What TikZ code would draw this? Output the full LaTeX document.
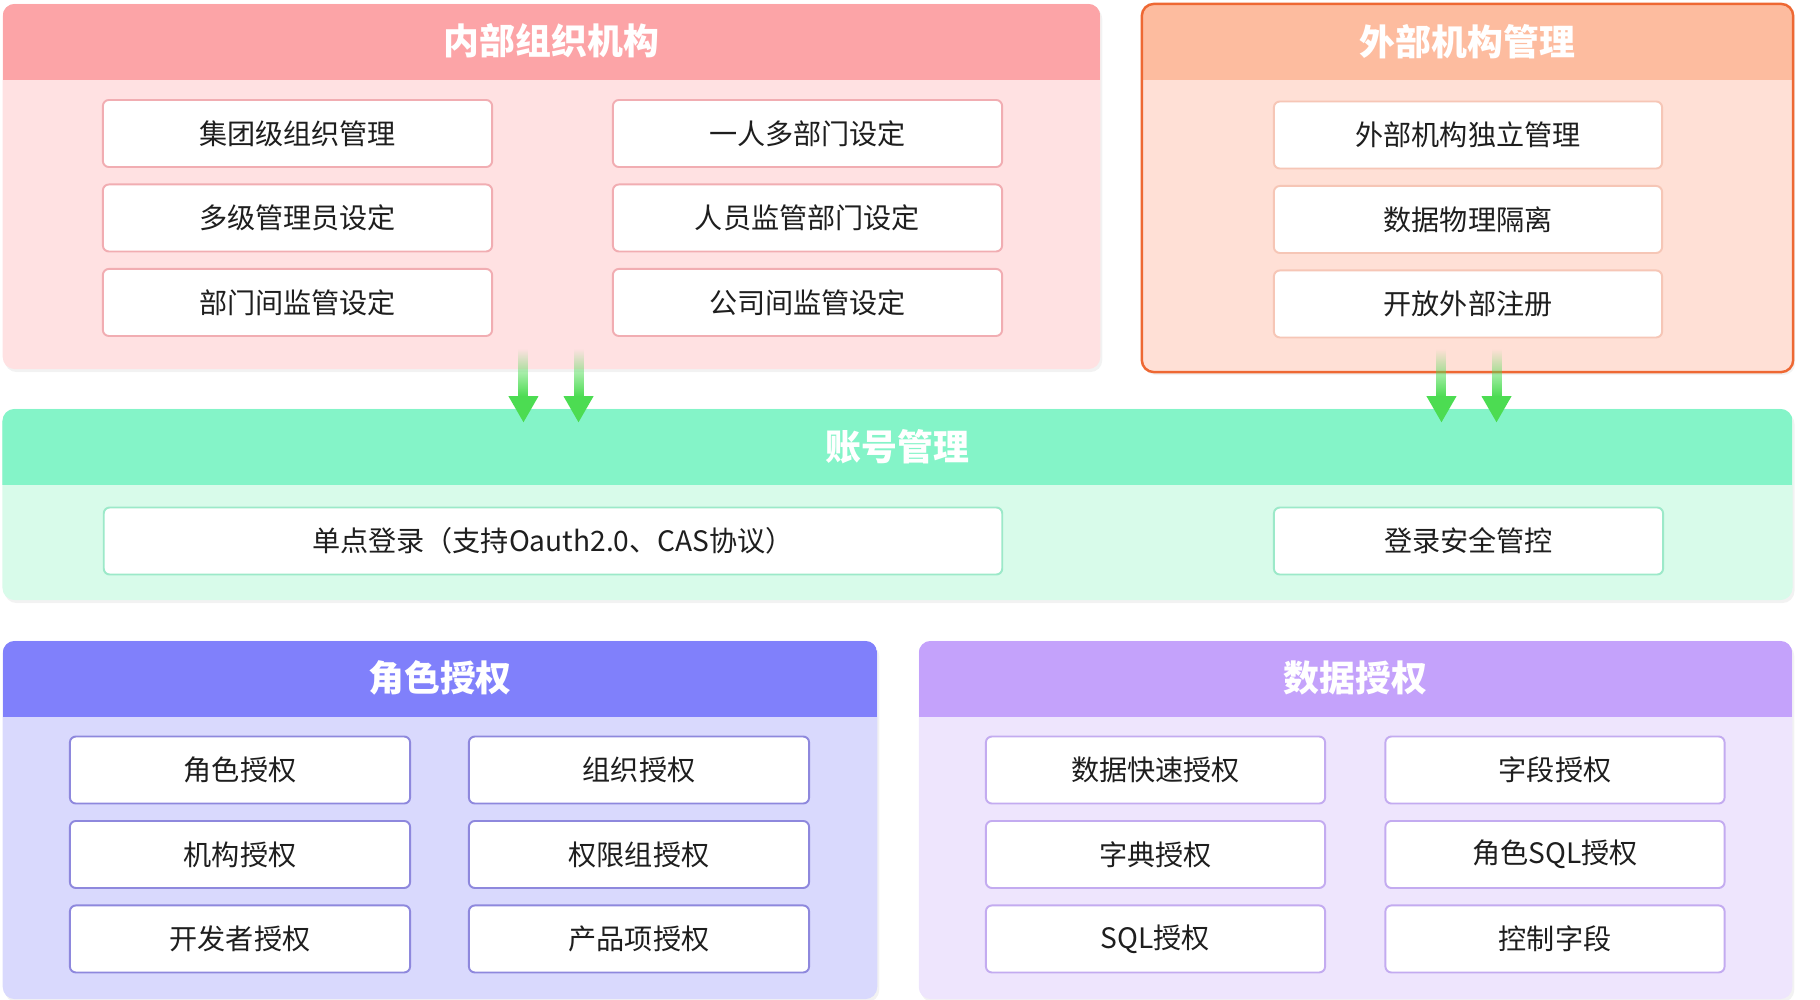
\documentclass[tikz,border=0pt]{standalone}
\usepackage{fontspec}
\setmainfont{Noto Sans CJK SC}
\usetikzlibrary{positioning, fadings, shadows}

\definecolor{innerHead}{HTML}{FCA4A7}
\definecolor{innerBody}{HTML}{FFE1E2}
\definecolor{innerLine}{HTML}{F1ADB2}
\definecolor{outerHead}{HTML}{FDBC9F}
\definecolor{outerBody}{HTML}{FFE0D6}
\definecolor{outerBorder}{HTML}{EE6833}
\definecolor{outerLine}{HTML}{F6C6B6}
\definecolor{acctHead}{HTML}{84F4C8}
\definecolor{acctBody}{HTML}{D8FBEA}
\definecolor{acctLine}{HTML}{9CE9C9}
\definecolor{roleHead}{HTML}{8080FB}
\definecolor{roleBody}{HTML}{D9D9FD}
\definecolor{roleLine}{HTML}{8E88DD}
\definecolor{dataHead}{HTML}{C4A2FB}
\definecolor{dataBody}{HTML}{EEE5FD}
\definecolor{dataLine}{HTML}{C3ABF0}
\definecolor{flowGreen}{HTML}{4CDC52}
\definecolor{ink}{HTML}{1E1E1E}

\tikzfading[name=fadeup, top color=transparent!100, middle color=transparent!75, bottom color=transparent!0]

\begin{document}
\begin{tikzpicture}[x=0.01cm, y=-0.01cm,
    panel/.style 2 args={rounded corners=0.12cm, fill=#1, inner sep=0,
      drop shadow={opacity=0.10, shadow xshift=0.02cm, shadow yshift=-0.03cm},
      path picture={\fill[#2, sharp corners] (path picture bounding box.north west)
        rectangle ([yshift=-0.76cm]path picture bounding box.north east);}},
    title/.style={font=\bfseries\fontsize{10.2}{12}\selectfont, text=white},
    box/.style={draw, fill=white, rounded corners=0.06cm, minimum height=0.67cm,
      line width=0.55pt, inner sep=0, text=ink, font=\fontsize{8}{10}\selectfont},
    innerbox/.style={box, draw=innerLine, minimum width=3.89cm},
    outerbox/.style={box, draw=outerLine, minimum width=3.88cm},
    acctbox/.style={box, draw=acctLine},
    rolebox/.style={box, draw=roleLine, minimum width=3.40cm},
    databox/.style={box, draw=dataLine, minimum width=3.39cm},
    shaft/.style={flowGreen, path fading=fadeup},
    head/.style={fill=flowGreen}
]
  \useasboundingbox (0,0) rectangle (1820,1000);

  % Internal organisation
  \node[panel={innerBody}{innerHead}, minimum width=10.97cm, minimum height=3.65cm] (inner) at (551.5,186.5) {};
  \node[title] (innerT) at ([yshift=-0.38cm]inner.north) {内部组织机构};
  \node[innerbox] (i1) at (297.5,133.5) {集团级组织管理};
  \node[innerbox, below=0.155cm of i1] (i3) {多级管理员设定};
  \node[innerbox, below=0.155cm of i3] (i5) {部门间监管设定};
  \node[innerbox] (i2) at (807.5,133.5) {一人多部门设定};
  \node[innerbox, below=0.155cm of i2] (i4) {人员监管部门设定};
  \node[innerbox, below=0.155cm of i4] (i6) {公司间监管设定};

  % External organisation
  \node[panel={outerBody}{outerHead}, draw=outerBorder, line width=0.7pt,
    minimum width=6.51cm, minimum height=3.68cm] (outer) at (1467.5,188) {};
  \node[title] (outerT) at ([yshift=-0.39cm]outer.north) {外部机构管理};
  \node[outerbox] (o1) at (1468,135) {外部机构独立管理};
  \node[outerbox, below=0.155cm of o1] (o2) {数据物理隔离};
  \node[outerbox, below=0.155cm of o2] (o3) {开放外部注册};

  % Accounts
  \node[panel={acctBody}{acctHead}, minimum width=17.89cm, minimum height=1.91cm] (acct) at (897.5,504.5) {};
  \node[title] (acctT) at ([yshift=-0.38cm]acct.north) {账号管理};
  \node[acctbox, minimum width=8.98cm] (a1) at (553,541) {单点登录（支持Oauth2.0、CAS协议）};
  \node[acctbox, minimum width=3.89cm] (a2) at (1468.5,541) {登录安全管控};

  % Flow arrows
  \coordinate (fs1) at ([xshift=-0.28cm,yshift=0.21cm]inner.south);
  \coordinate (fs2) at ([xshift=0.27cm,yshift=0.21cm]inner.south);
  \coordinate (fs3) at ([xshift=-0.26cm,yshift=0.24cm]outer.south);
  \coordinate (fs4) at ([xshift=0.29cm,yshift=0.24cm]outer.south);
  \coordinate (fh1) at ([yshift=0.12cm]acct.north -| fs1);
  \coordinate (fh2) at ([yshift=0.12cm]acct.north -| fs2);
  \coordinate (fh3) at ([yshift=0.12cm]acct.north -| fs3);
  \coordinate (fh4) at ([yshift=0.12cm]acct.north -| fs4);
  \fill[shaft] ([xshift=-0.05cm]fs1) rectangle ([xshift=0.05cm]fh1);
  \fill[shaft] ([xshift=-0.05cm]fs2) rectangle ([xshift=0.05cm]fh2);
  \fill[shaft] ([xshift=-0.05cm]fs3) rectangle ([xshift=0.05cm]fh3);
  \fill[shaft] ([xshift=-0.05cm]fs4) rectangle ([xshift=0.05cm]fh4);
  \fill[head] ([xshift=-0.15cm]fh1) -- ([xshift=0.15cm]fh1) -- ([yshift=-0.26cm]fh1) -- cycle;
  \fill[head] ([xshift=-0.15cm]fh2) -- ([xshift=0.15cm]fh2) -- ([yshift=-0.26cm]fh2) -- cycle;
  \fill[head] ([xshift=-0.15cm]fh3) -- ([xshift=0.15cm]fh3) -- ([yshift=-0.26cm]fh3) -- cycle;
  \fill[head] ([xshift=-0.15cm]fh4) -- ([xshift=0.15cm]fh4) -- ([yshift=-0.26cm]fh4) -- cycle;

  % Role authorisation
  \node[panel={roleBody}{roleHead}, minimum width=8.74cm, minimum height=3.58cm] (role) at (440,820) {};
  \node[title] (roleT) at ([yshift=-0.38cm]role.north) {角色授权};
  \node[rolebox] (r1) at (240,770) {角色授权};
  \node[rolebox, below=0.155cm of r1] (r3) {机构授权};
  \node[rolebox, below=0.155cm of r3] (r5) {开发者授权};
  \node[rolebox] (r2) at (639,770) {组织授权};
  \node[rolebox, below=0.155cm of r2] (r4) {权限组授权};
  \node[rolebox, below=0.155cm of r4] (r6) {产品项授权};

  % Data authorisation
  \node[panel={dataBody}{dataHead}, minimum width=8.73cm, minimum height=3.58cm] (data) at (1355.5,820) {};
  \node[title] (dataT) at ([yshift=-0.38cm]data.north) {数据授权};
  \node[databox] (d1) at (1155.5,770) {数据快速授权};
  \node[databox, below=0.155cm of d1] (d3) {字典授权};
  \node[databox, below=0.155cm of d3] (d5) {SQL授权};
  \node[databox] (d2) at (1555,770) {字段授权};
  \node[databox, below=0.155cm of d2] (d4) {角色SQL授权};
  \node[databox, below=0.155cm of d4] (d6) {控制字段};
\end{tikzpicture}
\end{document}
